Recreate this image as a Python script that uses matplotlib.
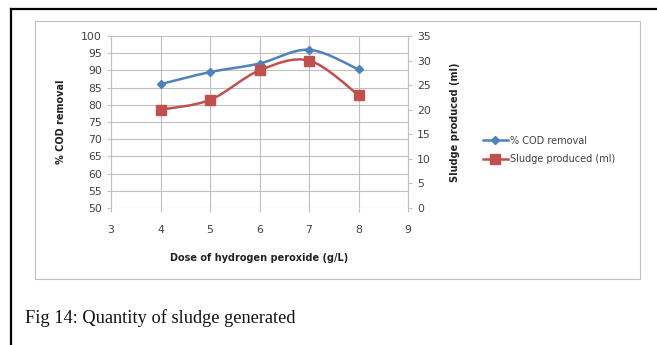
import numpy as np
import matplotlib
matplotlib.use('Agg')
import matplotlib.pyplot as plt
from matplotlib.path import Path
from matplotlib.patches import PathPatch, Rectangle
from matplotlib.lines import Line2D

#Chart data
dose = [4, 5, 6, 7, 8]
codRemoval = [86, 89.5, 92, 96, 90.3]
sludge = [20, 22, 28, 30, 23]

xTicks = [3, 4, 5, 6, 7, 8, 9]
leftTicks = list(range(50, 101, 5))
rightTicks = list(range(0, 36, 5))

blue = '#4F81BD'
red = '#C0504D'
textCol = '#404040'


def smoothPath(xs, ys):
    #Excel-style smoothed line: Catmull-Rom segments as cubic Bezier curves
    pts = np.column_stack([xs, ys]).astype(float)
    verts = [pts[0]]
    codes = [Path.MOVETO]
    n = len(pts)
    for i in range(n - 1):
        p0 = pts[i - 1] if i > 0 else pts[i]
        p1 = pts[i]
        p2 = pts[i + 1]
        p3 = pts[i + 2] if i + 2 < n else pts[i + 1]
        c1 = p1 + (p2 - p0) / 6.0
        c2 = p2 - (p3 - p1) / 6.0
        verts += [c1, c2, p2]
        codes += [Path.CURVE4] * 3
    return Path(verts, codes)


fig = plt.figure(figsize=(6.57, 3.45), dpi=100)

#Outer black frame (left and top edges) and grey chart box
fig.add_artist(Line2D([11 / 657, 11 / 657], [0, 1 - 9 / 345], color='black', lw=1.6))
fig.add_artist(Line2D([11 / 657, 1], [1 - 9 / 345, 1 - 9 / 345], color='black', lw=1.6))
fig.add_artist(Rectangle((35 / 657, 1 - 279 / 345), 605 / 657, 258 / 345,
                         fill=False, edgecolor='#BFBFBF', lw=0.8))

ax = fig.add_axes([111 / 657, 1 - 208 / 345, 297 / 657, 172 / 345])
ax2 = ax.twinx()

ax.set_xlim(3, 9)
ax.set_ylim(50, 100)
ax2.set_ylim(0, 35)

ax.set_xticks(xTicks)
ax.set_yticks(leftTicks)
ax2.set_yticks(rightTicks)
ax.grid(True, color='#BFBFBF', lw=0.8)
ax.set_axisbelow(True)

for a in (ax, ax2):
    for s in a.spines.values():
        s.set_visible(False)
    a.tick_params(colors='#BFBFBF', labelcolor=textCol, labelsize=7.8, length=3, width=0.8)
ax.spines['left'].set_visible(True)
ax.spines['left'].set_color('#BFBFBF')
ax2.spines['right'].set_visible(True)
ax2.spines['right'].set_color('#BFBFBF')
ax.tick_params(axis='x', pad=9)

ax.add_patch(PathPatch(smoothPath(dose, codRemoval), fill=False, edgecolor=blue, lw=1.8))
ax.plot(dose, codRemoval, 'D', color=blue, markersize=4.5, label='% COD removal')
ax2.add_patch(PathPatch(smoothPath(dose, sludge), fill=False, edgecolor=red, lw=1.8))
ax2.plot(dose, sludge, 's', color=red, markersize=7, label='Sludge produced (ml)')

ax.set_xlabel('Dose of hydrogen peroxide (g/L)', fontsize=7, fontweight='bold', color='#222222', labelpad=13)
ax.set_ylabel('% COD removal', fontsize=7, fontweight='bold', color='#222222', labelpad=11)
ax2.set_ylabel('Sludge produced (ml)', fontsize=7, fontweight='bold', color='#222222', labelpad=14)

#Legend with line + marker handles
handles = [Line2D([], [], color=blue, lw=1.8, marker='D', markersize=4.5),
           Line2D([], [], color=red, lw=1.8, marker='s', markersize=7)]
fig.legend(handles, ['% COD removal', 'Sludge produced (ml)'], loc='center left',
           bbox_to_anchor=(474 / 657, 1 - 150 / 345), frameon=False, fontsize=7,
           handlelength=2.6, handletextpad=0.2, labelspacing=0.9, labelcolor=textCol)

fig.text(25 / 657, 1 - 318 / 345, 'Fig 14: Quantity of sludge generated',
         family='Liberation Serif', fontsize=13.2, va='center', ha='left', color='#111111')

fig.savefig('out.png', dpi=100)
